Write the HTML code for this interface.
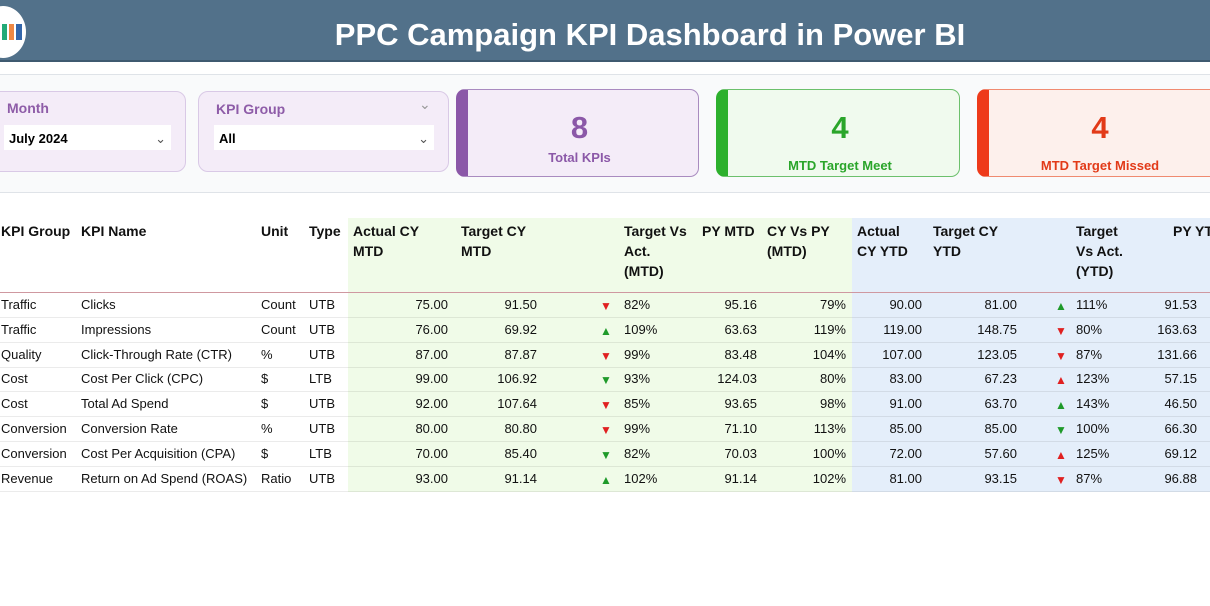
<!DOCTYPE html>
<html><head><style>
*{margin:0;padding:0;box-sizing:border-box}
body{width:1210px;height:606px;background:#fff;font-family:"Liberation Sans",sans-serif;position:relative;overflow:hidden}
.a{position:absolute;white-space:nowrap}
.hdr{left:0;top:0;width:1210px;height:62px;background:#52718a;border-bottom:2px solid #3f5a70}
.title{left:0;width:1300px;top:17px;text-align:center;color:#fff;font-weight:bold;font-size:31px}
.slicer{background:#f4ecf8;border:1px solid #d9c9e6;border-radius:10px}
.sl{color:#8e5ca8;font-weight:bold;font-size:14px}
.dd{background:#fff;height:25px;font-weight:bold;font-size:13px;padding:6px 5px}
.card{border:1px solid;border-radius:9px;overflow:hidden}
.num{font-size:31px;font-weight:bold;text-align:center;width:100%}
.lbl{font-size:13px;font-weight:bold;text-align:center;width:100%}
.t{font-size:13px;color:#111}
.h{font-weight:bold;font-size:14px;line-height:20px;color:#111}
.r{text-align:right}
</style></head><body>
<div class="a hdr"></div>
<div class="a" style="left:-20px;top:6px;width:46px;height:52px;border-radius:50%;background:#fff"></div>
<div class="a" style="left:2px;top:24px;width:20px;height:16px;background:linear-gradient(90deg,#2a7 0 25%,#fff 25% 35%,#e84 35% 60%,#fff 60% 70%,#36a 70%)"></div>
<div class="a title">PPC Campaign KPI Dashboard in Power BI</div>
<div class="a" style="left:0;top:74px;width:1210px;height:1px;background:#dfe3e8"></div>
<div class="a" style="left:0;top:75px;width:1210px;height:118px;background:#f9fafb"></div>
<div class="a" style="left:0;top:192px;width:1210px;height:1px;background:#dfe3e8"></div>

<div class="a slicer" style="left:-10px;top:91px;width:196px;height:81px"></div>
<div class="a sl" style="left:7px;top:100px">Month</div>
<div class="a dd" style="left:4px;top:125px;width:167px">July 2024<span style="float:right;font-weight:normal;color:#555">&#8964;</span></div>
<div class="a slicer" style="left:198px;top:91px;width:251px;height:81px"></div>
<div class="a sl" style="left:216px;top:101px">KPI Group</div>
<div class="a" style="left:419px;top:96px;color:#999;font-size:14px">&#8964;</div>
<div class="a dd" style="left:214px;top:125px;width:220px">All<span style="float:right;font-weight:normal;color:#555">&#8964;</span></div>

<div class="a card" style="left:456px;top:89px;width:243px;height:88px;background:#f4ecf8;border-color:#a98bc0;border-left:12px solid #8b58a8"></div>
<div class="a num" style="left:458px;width:243px;top:110px;color:#8b58a8">8</div>
<div class="a lbl" style="left:458px;width:243px;top:150px;color:#8b58a8">Total KPIs</div>
<div class="a card" style="left:716px;top:89px;width:244px;height:88px;background:#f0faee;border-color:#6cc06c;border-left:12px solid #2db02d"></div>
<div class="a num" style="left:718px;width:244px;top:110px;color:#2aa52a">4</div>
<div class="a lbl" style="left:718px;width:244px;top:158px;color:#2aa52a">MTD Target Meet</div>
<div class="a card" style="left:977px;top:89px;width:250px;height:88px;background:#fdf0ec;border-color:#f08a70;border-left:12px solid #ee3a1a"></div>
<div class="a num" style="left:977px;width:246px;top:110px;color:#e23a18">4</div>
<div class="a lbl" style="left:977px;width:246px;top:158px;color:#e23a18">MTD Target Missed</div>

<div class="a" style="left:348px;top:218px;width:504px;height:274px;background:#f0fbe8"></div>
<div class="a" style="left:852px;top:218px;width:358px;height:274px;background:#e4eefa"></div>
<div class="a" style="left:0;top:292px;width:1210px;height:1px;background:#cf98a0"></div>

<div class="a h" style="left:1px;top:221px">KPI Group</div>
<div class="a h" style="left:81px;top:221px">KPI Name</div>
<div class="a h" style="left:261px;top:221px">Unit</div>
<div class="a h" style="left:309px;top:221px">Type</div>
<div class="a h" style="left:353px;top:221px">Actual CY<br>MTD</div>
<div class="a h" style="left:461px;top:221px">Target CY<br>MTD</div>
<div class="a h" style="left:624px;top:221px">Target Vs<br>Act.<br>(MTD)</div>
<div class="a h" style="left:702px;top:221px">PY MTD</div>
<div class="a h" style="left:767px;top:221px">CY Vs PY<br>(MTD)</div>
<div class="a h" style="left:857px;top:221px">Actual<br>CY YTD</div>
<div class="a h" style="left:933px;top:221px">Target CY<br>YTD</div>
<div class="a h" style="left:1076px;top:221px">Target<br>Vs Act.<br>(YTD)</div>
<div class="a h" style="left:1173px;top:221px">PY YTD</div>

<div id="rows"></div>
<script>
var d=[["Traffic","Clicks","Count","UTB","75.00","91.50","dn","82%","95.16","79%","90.00","81.00","up","111%","91.53"],
["Traffic","Impressions","Count","UTB","76.00","69.92","up","109%","63.63","119%","119.00","148.75","dn","80%","163.63"],
["Quality","Click-Through Rate (CTR)","%","UTB","87.00","87.87","dn","99%","83.48","104%","107.00","123.05","dn","87%","131.66"],
["Cost","Cost Per Click (CPC)","$","LTB","99.00","106.92","gdn","93%","124.03","80%","83.00","67.23","rup","123%","57.15"],
["Cost","Total Ad Spend","$","UTB","92.00","107.64","dn","85%","93.65","98%","91.00","63.70","up","143%","46.50"],
["Conversion","Conversion Rate","%","UTB","80.00","80.80","dn","99%","71.10","113%","85.00","85.00","gdn","100%","66.30"],
["Conversion","Cost Per Acquisition (CPA)","$","LTB","70.00","85.40","gdn","82%","70.03","100%","72.00","57.60","rup","125%","69.12"],
["Revenue","Return on Ad Spend (ROAS)","Ratio","UTB","93.00","91.14","up","102%","91.14","102%","81.00","93.15","dn","87%","96.88"]];
function ar(k){var c=(k=="up"||k=="gdn")?"#1f9a2a":"#e02020";var g=(k=="up"||k=="rup")?"&#9650;":"&#9660;";return '<span style="color:'+c+';font-size:12px">'+g+'</span>';}
var h="";
d.forEach(function(r,i){var y=297+i*24.8;
h+='<div class="a" style="left:0;top:'+(y+20)+'px;width:1210px;height:1px;background:rgba(0,0,0,0.08)"></div>';
function L(x,t){h+='<div class="a t" style="left:'+x+'px;top:'+y+'px">'+t+'</div>';}
function R(x,t){h+='<div class="a t r" style="left:'+(x-100)+'px;width:100px;top:'+y+'px">'+t+'</div>';}
L(1,r[0]);L(81,r[1]);L(261,r[2]);L(309,r[3]);R(448,r[4]);R(537,r[5]);
h+='<div class="a" style="left:600px;top:'+(y)+'px">'+ar(r[6])+'</div>';L(624,r[7]);R(757,r[8]);R(846,r[9]);R(922,r[10]);R(1017,r[11]);
h+='<div class="a" style="left:1055px;top:'+(y)+'px">'+ar(r[12])+'</div>';L(1076,r[13]);R(1197,r[14]);});
document.getElementById("rows").innerHTML=h;
</script>
</body></html>
